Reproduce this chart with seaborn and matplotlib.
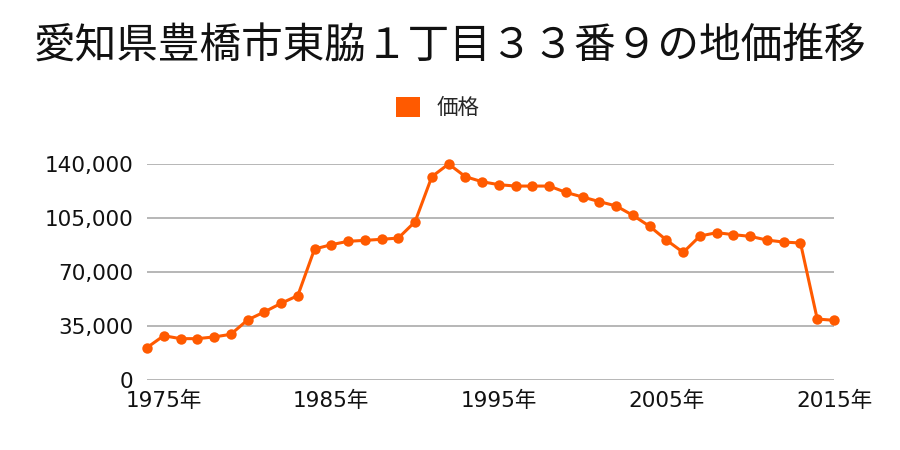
import matplotlib
matplotlib.use("Agg")
import matplotlib.pyplot as plt
from matplotlib.patches import Patch
import seaborn as sns
import pandas as pd

years = list(range(1974, 2016))
prices = [21000, 28700, 26800, 26800, 27900, 29600, 38900, 44100, 49700, 54700,
          84900, 87700, 89900, 90500, 91200, 92000, 102600, 131800, 140000, 131800,
          128500, 126600, 125700, 125700, 125700, 121600, 118600, 115600, 112800, 106700,
          99600, 90700, 82700, 93300, 95500, 94200, 93100, 90700, 89400, 88800,
          39500, 38700]
title = "愛知県豊橋市東脇１丁目３３番９の地価推移"
series_name = "価格"
y_ticks = [0, 35000, 70000, 105000, 140000]
x_ticks = [1975, 1985, 1995, 2005, 2015]
x_labels = [f"{y}年" for y in x_ticks]

sns.set_theme(style="white")
plt.rcParams['font.family'] = ['Noto Sans CJK JP', 'DejaVu Sans']
tick_family = ['DejaVu Sans', 'Noto Sans CJK JP']

color = "#FF5A00"
df = pd.DataFrame({"year": years, "price": prices})

fig = plt.figure(figsize=(9, 4.5), dpi=100)
ax = fig.add_axes([147/900, 1-380/450, (834-147)/900, (380-164)/450])
sns.lineplot(data=df, x="year", y="price", ax=ax, color=color, linewidth=2.2,
             marker="o", markersize=7.5, markeredgewidth=0, clip_on=False, zorder=3)

ax.set_xlim(1974, 2015)
ax.set_ylim(0, 140000)
ax.set_yticks(y_ticks)
ax.set_yticklabels([f"{v:,}" for v in y_ticks], fontsize=15.5, color="#111111",
                   family=tick_family)
ax.set_xticks(x_ticks)
ax.set_xticklabels(x_labels, fontsize=15.5, color="#111111", family=tick_family)
ax.tick_params(axis="y", length=0, pad=10)
ax.tick_params(axis="x", length=0, pad=8)
ax.grid(axis="y", color="#AAAAAA", linewidth=1.2)
ax.grid(axis="x", visible=False)
for s in ax.spines.values():
    s.set_visible(False)
ax.set_xlabel("")
ax.set_ylabel("")

fig.text(0.5, 1-47/450, title, ha="center", va="center", fontsize=30, color="#111111")
fig.legend(handles=[Patch(facecolor=color, edgecolor="none", label=series_name)],
           loc="center", bbox_to_anchor=(0.5 - 12/900, 1-108/450), frameon=False,
           fontsize=15.5, handlelength=1.1, handleheight=1.1, handletextpad=0.8)

fig.savefig("out.png", dpi=100)
